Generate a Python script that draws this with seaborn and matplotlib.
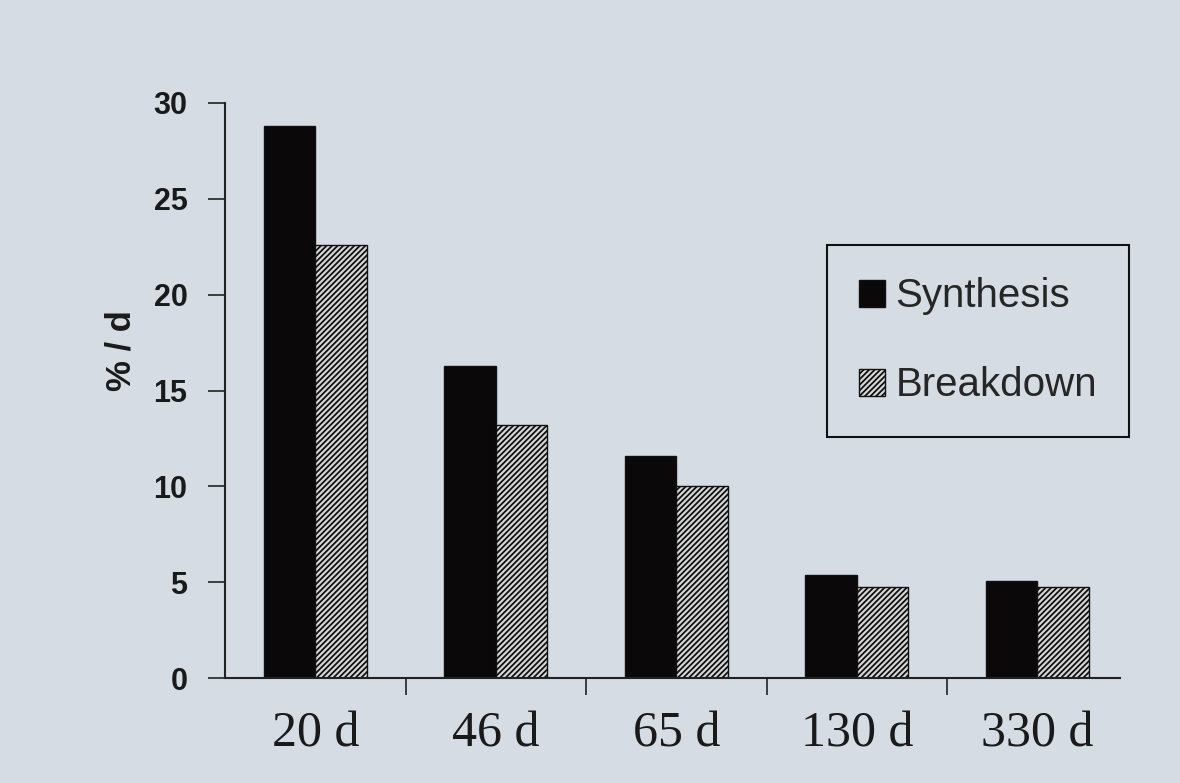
import matplotlib
matplotlib.use("Agg")
import matplotlib.pyplot as plt
import seaborn as sns
import pandas as pd
from matplotlib.patches import Patch

categories = ["20 d", "46 d", "65 d", "130 d", "330 d"]
synthesis = [28.8, 16.3, 11.6, 5.4, 5.05]
breakdown = [22.6, 13.2, 10.0, 4.75, 4.75]
series_names = ["Synthesis", "Breakdown"]
yticks = [0, 5, 10, 15, 20, 25, 30]

sns.set_theme(style="ticks")
plt.rcParams["hatch.linewidth"] = 1.3
bg = "#d6dce4"

df = pd.DataFrame({
    "cat": categories * 2,
    "val": synthesis + breakdown,
    "series": [series_names[0]] * len(categories) + [series_names[1]] * len(categories),
})

fig = plt.figure(figsize=(11.8, 7.83), dpi=100, facecolor=bg)
ax = fig.add_axes([0.1907, 0.134, 0.7583, 0.7345])
ax.set_facecolor(bg)

sns.barplot(data=df, x="cat", y="val", hue="series", order=categories,
            hue_order=series_names, palette=["#0a0808", "#d8d8d8"],
            width=0.57, gap=0, ax=ax, legend=False, saturation=1)

n = len(categories)
for i, p in enumerate(ax.patches[:2 * n]):
    p.set_edgecolor("#111111")
    p.set_linewidth(1.0)
    if i >= n:
        p.set_hatch("//////")

ax.set_xlim(-0.5, n - 1 + 0.457)
ax.set_ylim(0, 30)
ax.set_yticks(yticks)
ax.set_yticklabels([str(t) for t in yticks], fontsize=22, fontweight="bold",
                   family="Liberation Sans", color="#1a1a1a")
ax.set_xticks(range(n))
ax.set_xticklabels(categories, fontsize=36, family="Liberation Serif", color="#1a1a1a")
ax.tick_params(axis="x", length=0, pad=24)
ax.set_xticks([i + 0.5 for i in range(n - 1)], minor=True)
ax.tick_params(axis="x", which="minor", length=12, width=1.2, color="#222222", direction="out")
ax.tick_params(axis="y", length=12, width=1.2, color="#222222", direction="out", pad=15)

ax.set_xlabel("")
ax.set_ylabel("% / d", fontsize=25, fontweight="bold", family="Liberation Sans",
              color="#1a1a1a")
ax.yaxis.set_label_coords(-0.098, 0.57)

for s in ["top", "right"]:
    ax.spines[s].set_visible(False)
for s in ["left", "bottom"]:
    ax.spines[s].set_color("#222222")
    ax.spines[s].set_linewidth(1.5)

handles = [Patch(facecolor="#0a0808", edgecolor="#111111"),
           Patch(facecolor="#d8d8d8", edgecolor="#111111", hatch="//////")]
leg = ax.legend(handles, series_names, loc="upper left",
                bbox_to_anchor=(0.6726, 0.753), frameon=True, fancybox=False,
                prop={"family": "Liberation Sans", "size": 29},
                handlelength=0.65, handleheight=0.65, handletextpad=0.25,
                labelspacing=1.27, borderpad=0.8, borderaxespad=0)
leg.get_frame().set_edgecolor("#111111")
leg.get_frame().set_linewidth(1.5)
leg.get_frame().set_facecolor(bg)
leg.get_frame().set_alpha(1)

fig.savefig("out.png", dpi=100, facecolor=bg)
